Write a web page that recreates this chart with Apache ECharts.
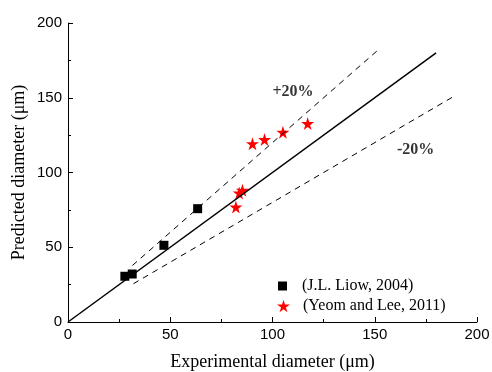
<!DOCTYPE html>
<html>
<head>
<meta charset="utf-8">
<script src="https://cdn.jsdelivr.net/npm/echarts@6/dist/echarts.min.js"></script>
<style>
  html, body { margin: 0; padding: 0; background: #fff; }
  #chart { width: 492px; height: 372px; }
</style>
</head>
<body>
<div id="chart"></div>
<script>
// data
const liowX = [27.8, 31.4, 46.9, 63.4];
const liowY = [30.6, 32.1, 51.3, 75.8];
const yeomX = [82.1, 83.7, 85.3, 90.2, 96.1, 105.1, 117.2];
const yeomY = [76.9, 86.3, 88.1, 119.3, 122.0, 126.9, 132.7];

// reference lines: y = x, +20 %, -20 %
const lineEqual = [[0, 0], [180, 180]];
const linePlus = [[31.5, 37.8], [152, 182.4]];
const lineMinus = [[32, 25.6], [189, 151.2]];

const annoText = ['+20%', '-20%'];
const annoPos = [[110, 154], [170, 115]];

const starPath = 'path://M50,0 L61,35 L98,35 L68,57 L79,91 L50,70 L21,91 L32,57 L2,35 L39,35 Z';
const serif = '"Liberation Serif", "Times New Roman", serif';
const sans = '"Liberation Sans", Arial, sans-serif';

const zip = (xs, ys) => xs.map((x, i) => [x, ys[i]]);

const chart = echarts.init(document.getElementById('chart'));

const axisCommon = {
  type: 'value',
  min: 0,
  max: 200,
  interval: 50,
  nameLocation: 'middle',
  nameMoveOverlap: false,
  nameTextStyle: { fontFamily: serif, fontSize: 18, color: '#000' },
  axisLine: { show: true, lineStyle: { color: '#000', width: 1 } },
  axisTick: { show: true, inside: true, length: 5, lineStyle: { color: '#000' } },
  minorTick: { show: true, splitNumber: 2, length: 3, lineStyle: { color: '#000' } },
  splitLine: { show: false },
  axisLabel: { fontFamily: sans, fontSize: 15, color: '#000' }
};

const legendText = { fontFamily: serif, fontSize: 16, color: '#000' };

const option = {
  animation: false,
  grid: { left: 68, right: 15, top: 23, bottom: 50, outerBoundsMode: 'none' },
  xAxis: Object.assign({}, axisCommon, {
    name: 'Experimental diameter (μm)',
    nameGap: 31,
    axisLabel: Object.assign({}, axisCommon.axisLabel, { margin: 5 })
  }),
  yAxis: Object.assign({}, axisCommon, {
    name: 'Predicted diameter (μm)',
    nameGap: 40,
    axisLabel: Object.assign({}, axisCommon.axisLabel, { margin: 6 })
  }),
  legend: [
    {
      left: 273, top: 273, itemWidth: 9, itemHeight: 9,
      textStyle: Object.assign({ padding: [0, 0, 0, 10] }, legendText),
      data: [{ name: '(J.L. Liow, 2004)', icon: 'rect' }]
    },
    {
      left: 272, top: 293, itemWidth: 13, itemHeight: 13,
      textStyle: Object.assign({ padding: [0, 0, 0, 8] }, legendText),
      data: [{ name: '(Yeom and Lee, 2011)', icon: starPath }]
    }
  ],
  series: [
    {
      type: 'line', data: lineEqual, symbol: 'none', silent: true,
      lineStyle: { color: '#000', width: 1.5 }
    },
    {
      type: 'line', data: linePlus, symbol: 'none', silent: true,
      lineStyle: { color: '#000', width: 1, type: [6, 5] }
    },
    {
      type: 'line', data: lineMinus, symbol: 'none', silent: true,
      lineStyle: { color: '#000', width: 1, type: [6, 5] }
    },
    {
      name: '(J.L. Liow, 2004)', type: 'scatter', data: zip(liowX, liowY),
      symbol: 'rect', symbolSize: 9, itemStyle: { color: '#000', opacity: 1 }
    },
    {
      name: '(Yeom and Lee, 2011)', type: 'scatter', data: zip(yeomX, yeomY),
      symbol: starPath, symbolSize: 13, itemStyle: { color: '#ff0000', opacity: 1 }
    },
    {
      type: 'scatter', silent: true, symbolSize: 0,
      data: annoPos.map((p, i) => ({ value: p, name: annoText[i] })),
      label: {
        show: true, position: 'inside', formatter: '{b}',
        fontFamily: serif, fontSize: 16, fontWeight: 'bold', color: '#000'
      }
    }
  ]
};

chart.setOption(option);
</script>
</body>
</html>
